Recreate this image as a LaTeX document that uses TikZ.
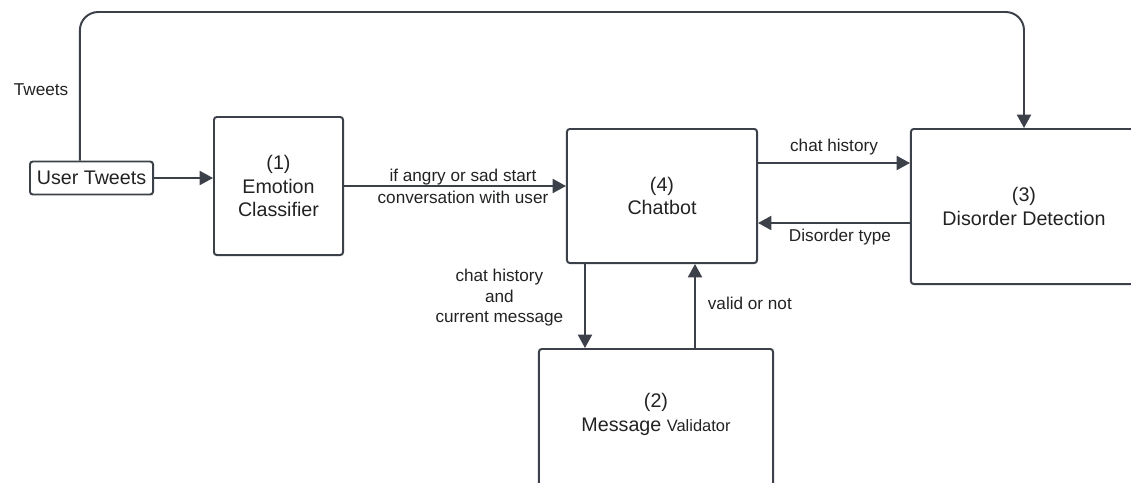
\documentclass[tikz,border=0pt]{standalone}
\usepackage{fontspec}
\setmainfont{Liberation Sans}
\usepackage{tikz}
\usetikzlibrary{arrows.meta, positioning, calc}
\definecolor{linec}{HTML}{3B4049}
\definecolor{textc}{HTML}{222222}

\begin{document}
\begin{tikzpicture}[x=0.025cm, y=-0.025cm, text=textc,
    box/.style={draw=linec, line width=1.4pt, rounded corners=2pt, align=center, font=\fontsize{14}{17}\selectfont},
    arrow/.style={-{Triangle[length=9.5pt, width=10pt]}, line width=1.4pt, draw=linec},
    lbl/.style={align=center, font=\fontsize{12.2}{14.5}\selectfont}]
    \useasboundingbox (0,0) rectangle (1131,482);

    \node[box, minimum width=3.075cm, minimum height=0.825cm, inner sep=1pt] (tweets) at (91.5,178) {User Tweets};
    \node[box, minimum width=3.225cm, minimum height=3.45cm] (emotion) at (278.5,186) {(1)\\Emotion\\Classifier};
    \node[box, minimum width=4.75cm, minimum height=3.35cm] (chat) at (662,196) {(4)\\Chatbot};
    \node[box, minimum width=5.65cm, minimum height=3.875cm] (disorder) at (1024,206.5) {(3)\\Disorder Detection};
    \node[box, minimum width=5.85cm, minimum height=3.75cm] (valid) at (656,424) {};
    \node[align=center, font=\fontsize{14}{17}\selectfont] (validtxt) at (656,414) {(2)\\Message {\fontsize{11.7}{14}\selectfont Validator}};

    % tweets to the detector over the top
    \coordinate (start) at ([xshift=-0.29cm]tweets.north);
    \coordinate (ceil) at (500,12);
    \draw[arrow, rounded corners=13pt] (start) -- node[lbl, left, pos=0.48, xshift=-0.15cm] {Tweets} (start |- ceil) -- (disorder.north |- ceil) -- (disorder.north);

    \draw[arrow] (tweets.east) -- (tweets.east -| emotion.west);
    \draw[arrow] (emotion.east) -- node[lbl, font=\fontsize{12.2}{15.5}\selectfont, xshift=0.2cm] {if angry or sad start\\conversation with user} (emotion.east -| chat.west);

    \draw[arrow] ([yshift=0.825cm]chat.east) -- node[lbl, above, yshift=0.05cm] {chat history} ([yshift=0.825cm]chat.east -| disorder.west);
    \draw[arrow] ([yshift=-0.4125cm]disorder.west) -- node[lbl, below, xshift=0.15cm] {Disorder type} ([yshift=-0.4125cm]disorder.west -| chat.east);

    \coordinate (down) at ([xshift=-1.925cm]chat.south);
    \coordinate (up) at ([xshift=0.825cm]chat.south);
    \draw[arrow] (down) -- node[lbl, left, pos=0.4, xshift=-0.4cm] {chat history\\and\\current message} (down |- valid.north);
    \draw[arrow] (up |- valid.north) -- node[lbl, right, pos=0.535, xshift=0.18cm] {valid or not} (up);
\end{tikzpicture}
\end{document}
